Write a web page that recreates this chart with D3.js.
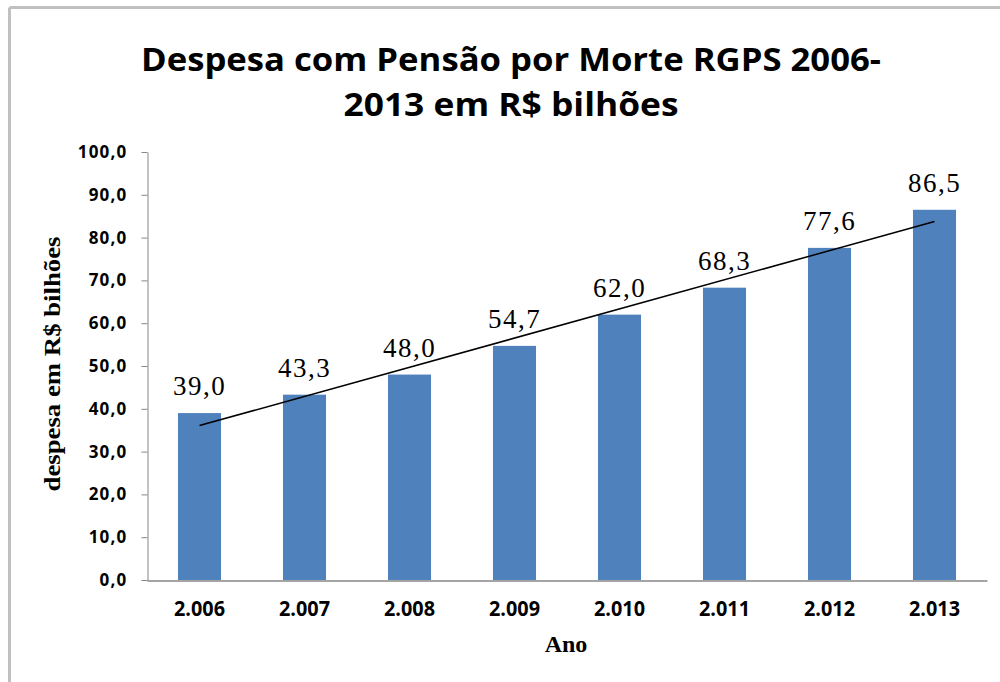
<!DOCTYPE html>
<html>
<head>
<meta charset="utf-8">
<script src="https://cdn.jsdelivr.net/npm/d3@7"></script>
<style>
  html, body { margin: 0; padding: 0; background: #fff; }
  svg { display: block; }
</style>
</head>
<body>
<svg id="chart"></svg>
<script>
const anos = ['2.006', '2.007', '2.008', '2.009', '2.010', '2.011', '2.012', '2.013'];
const despesa = [39.0, 43.3, 48.0, 54.7, 62.0, 68.3, 77.6, 86.5];
const yTicks = [0, 10, 20, 30, 40, 50, 60, 70, 80, 90, 100];
const titulo = ['Despesa com Pensão por Morte RGPS 2006-', '2013 em R$ bilhões'];

const width = 1000;
const height = 682;

const svg = d3.select('#chart')
  .attr('width', width)
  .attr('height', height);

// moldura (só topo e esquerda aparecem)
svg.append('line')
  .attr('x1', 9.5).attr('y1', 7.5).attr('x2', width).attr('y2', 7.5)
  .attr('stroke', '#c0c0c0').attr('stroke-width', 3);
svg.append('line')
  .attr('x1', 9.5).attr('y1', 7.5).attr('x2', 9.5).attr('y2', height)
  .attr('stroke', '#c0c0c0').attr('stroke-width', 3);

const x = d3.scaleBand()
  .domain(anos)
  .range([147, 987])
  .padding(0);

const y = d3.scaleLinear()
  .domain([0, 100])
  .range([580, 152]);

const fmt = v => d3.format('.1f')(v).replace('.', ',');
const barW = x.bandwidth() * 0.41;

// título
svg.append('g')
  .selectAll('text')
  .data(titulo)
  .enter()
  .append('text')
  .attr('x', 511)
  .attr('y', (d, i) => 71 + i * 45)
  .attr('text-anchor', 'middle')
  .attr('font-family', 'Open Sans, sans-serif')
  .attr('font-weight', 'bold')
  .attr('font-size', 33)
  .attr('textLength', (d, i) => i === 0 ? 740 : 335)
  .attr('lengthAdjust', 'spacingAndGlyphs')
  .text(d => d);

// eixo y
const yAxis = svg.append('g')
  .attr('transform', 'translate(147.5,0)')
  .call(d3.axisLeft(y).tickValues(yTicks).tickSize(6).tickSizeOuter(0).tickFormat(fmt));
yAxis.select('.domain').attr('stroke', '#868686');
yAxis.selectAll('.tick line').attr('stroke', '#868686');
yAxis.selectAll('.tick text')
  .attr('x', -20)
  .attr('font-family', 'Open Sans, sans-serif')
  .attr('font-weight', 'bold')
  .attr('font-size', 17)
  .attr('letter-spacing', 1.2)
  .attr('fill', '#000');

// barras
svg.append('g')
  .selectAll('rect')
  .data(despesa)
  .enter()
  .append('rect')
  .attr('x', (d, i) => x(anos[i]) + x.bandwidth() / 2 - barW / 2)
  .attr('y', d => y(d))
  .attr('width', barW)
  .attr('height', d => y(0) - y(d))
  .attr('fill', '#4f81bd');

// eixo x
const xAxis = svg.append('g')
  .attr('transform', 'translate(0,580.5)')
  .call(d3.axisBottom(x).tickSize(0).tickSizeOuter(0));
xAxis.select('.domain').attr('stroke', '#868686').attr('stroke-width', 1.5);
xAxis.selectAll('.tick text')
  .attr('y', 21)
  .attr('dy', '0.71em')
  .attr('font-family', 'Open Sans, sans-serif')
  .attr('font-weight', 'bold')
  .attr('font-size', 21)
  .attr('textLength', 51)
  .attr('lengthAdjust', 'spacingAndGlyphs')
  .attr('fill', '#000');

// rótulos de dados
svg.append('g')
  .selectAll('text')
  .data(despesa)
  .enter()
  .append('text')
  .attr('x', (d, i) => x(anos[i]) + x.bandwidth() / 2)
  .attr('y', d => y(d) - 18)
  .attr('text-anchor', 'middle')
  .attr('font-family', 'Liberation Serif, Times New Roman, serif')
  .attr('font-size', 27)
  .attr('letter-spacing', 1.5)
  .text(d => fmt(d));

// linha de tendência (regressão linear)
const idx = despesa.map((d, i) => i);
const mx = d3.mean(idx);
const my = d3.mean(despesa);
const slope = d3.sum(idx, i => (i - mx) * (despesa[i] - my)) / d3.sum(idx, i => (i - mx) * (i - mx));
const inter = my - slope * mx;
const trend = [0, despesa.length - 1].map(i => [x(anos[i]) + x.bandwidth() / 2, y(inter + slope * i)]);
svg.append('path')
  .attr('d', d3.line()(trend))
  .attr('stroke', '#000')
  .attr('stroke-width', 1.5)
  .attr('fill', 'none');

// títulos dos eixos
svg.append('text')
  .attr('transform', 'translate(60,364) rotate(-90)')
  .attr('text-anchor', 'middle')
  .attr('font-family', 'Liberation Serif, Times New Roman, serif')
  .attr('font-weight', 'bold')
  .attr('font-size', 23)
  .attr('textLength', 255)
  .attr('lengthAdjust', 'spacingAndGlyphs')
  .text('despesa em R$ bilhões');

svg.append('text')
  .attr('x', 566)
  .attr('y', 652)
  .attr('text-anchor', 'middle')
  .attr('font-family', 'Liberation Serif, Times New Roman, serif')
  .attr('font-weight', 'bold')
  .attr('font-size', 24)
  .text('Ano');
</script>
</body>
</html>
